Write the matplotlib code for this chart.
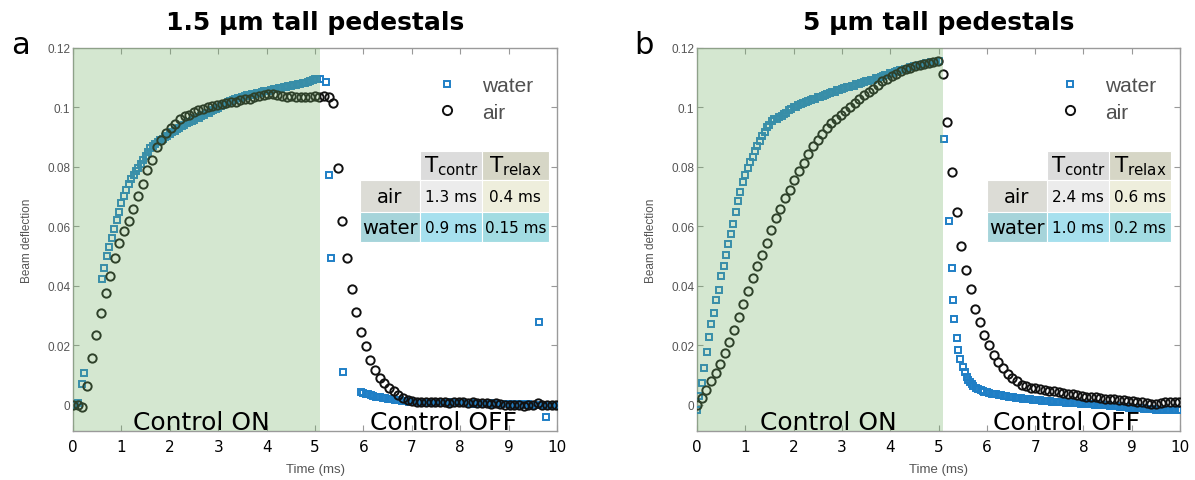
import numpy as np
import matplotlib
matplotlib.use("Agg")
import matplotlib.pyplot as plt
from matplotlib.patches import Rectangle

# ---------------- data ----------------
# air: one sample every ~0.096 ms
AIR_DT = 0.096
air_a = [
    0.0000, 0.0001, -0.0008, 0.0064, 0.0157, 0.0236, 0.0308, 0.0376, 0.0433, 0.0494,
    0.0544, 0.0585, 0.0619, 0.0658, 0.0703, 0.0744, 0.0789, 0.0825, 0.0866, 0.0891,
    0.0915, 0.0931, 0.0945, 0.0960, 0.0970, 0.0976, 0.0984, 0.0990, 0.0996, 0.1001,
    0.1004, 0.1008, 0.1010, 0.1015, 0.1017, 0.1019, 0.1024, 0.1028, 0.1030, 0.1035,
    0.1037, 0.1041, 0.1045, 0.1046, 0.1043, 0.1038, 0.1036, 0.1038, 0.1034, 0.1036,
    0.1034, 0.1036, 0.1037, 0.1035, 0.1037, 0.1036, 0.1015, 0.0798, 0.0619, 0.0495,
    0.0390, 0.0312, 0.0244, 0.0197, 0.0152, 0.0118, 0.0090, 0.0073, 0.0056, 0.0045,
    0.0034, 0.0024, 0.0017, 0.0012, 0.0010, 0.0009, 0.0011, 0.0008, 0.0009, 0.0010,
    0.0008, 0.0007, 0.0010, 0.0009, 0.0008, 0.0006, 0.0009, 0.0007, 0.0005, 0.0006,
    0.0004, 0.0005, 0.0002, 0.0001, 0.0000, -0.0002, -0.0001, -0.0004, -0.0002, 0.0001,
    0.0005, 0.0000, -0.0001, 0.0001, 0.0000,
]
air_b = [
    0.0000, 0.0022, 0.0050, 0.0080, 0.0107, 0.0138, 0.0175, 0.0211, 0.0252, 0.0297,
    0.0340, 0.0382, 0.0426, 0.0467, 0.0505, 0.0545, 0.0587, 0.0628, 0.0659, 0.0695,
    0.0724, 0.0755, 0.0785, 0.0814, 0.0844, 0.0870, 0.0892, 0.0910, 0.0931, 0.0948,
    0.0962, 0.0976, 0.0988, 0.1001, 0.1016, 0.1030, 0.1041, 0.1052, 0.1063, 0.1077,
    0.1088, 0.1097, 0.1106, 0.1114, 0.1121, 0.1128, 0.1134, 0.1139, 0.1144, 0.1147,
    0.1151, 0.1153, 0.1155, 0.1114, 0.0951, 0.0783, 0.0648, 0.0534, 0.0455, 0.0388,
    0.0323, 0.0278, 0.0236, 0.0200, 0.0166, 0.0144, 0.0123, 0.0104, 0.0090, 0.0079,
    0.0067, 0.0062, 0.0058, 0.0055, 0.0053, 0.0050, 0.0048, 0.0046, 0.0044, 0.0041,
    0.0038, 0.0036, 0.0033, 0.0031, 0.0028, 0.0027, 0.0025, 0.0023, 0.0021, 0.0020,
    0.0018, 0.0017, 0.0015, 0.0014, 0.0012, 0.0010, 0.0008, 0.0006, 0.0003, 0.0002,
    0.0006, 0.0008, 0.0009, 0.0009, 0.0009,
]

# water: one sample every 0.05 ms, with some samples missing / sparse
W_DT = 0.05
water_a_start_t = [0.00, 0.05, 0.10, 0.19, 0.23]
water_a_start = [0.0000, 0.0001, 0.0005, 0.0071, 0.0107]
water_a_on_t0 = 0.60  # dense part during control ON
water_a_on = [
    0.0422, 0.0460, 0.0500, 0.0530, 0.0562, 0.0590, 0.0622, 0.0649, 0.0678, 0.0703,
    0.0723, 0.0742, 0.0760, 0.0773, 0.0786, 0.0797, 0.0811, 0.0824, 0.0838, 0.0851,
    0.0863, 0.0872, 0.0877, 0.0885, 0.0889, 0.0894, 0.0901, 0.0905, 0.0911, 0.0918,
    0.0921, 0.0928, 0.0931, 0.0938, 0.0941, 0.0947, 0.0950, 0.0956, 0.0958, 0.0964,
    0.0966, 0.0972, 0.0975, 0.0980, 0.0982, 0.0988, 0.0991, 0.0996, 0.0999, 0.1004,
    0.1009, 0.1012, 0.1018, 0.1021, 0.1025, 0.1027, 0.1031, 0.1032, 0.1036, 0.1037,
    0.1041, 0.1042, 0.1045, 0.1046, 0.1049, 0.1050, 0.1053, 0.1054, 0.1057, 0.1057,
    0.1060, 0.1061, 0.1063, 0.1065, 0.1066, 0.1068, 0.1068, 0.1071, 0.1072, 0.1074,
    0.1075, 0.1078, 0.1078, 0.1081, 0.1083, 0.1086, 0.1089, 0.1092, 0.1095, 0.1096,
    0.1096,
]
water_a_drop_t = [5.22, 5.29, 5.34, 5.57]
water_a_drop = [0.1085, 0.0773, 0.0495, 0.0109]
water_a_off_t0 = 5.95
water_a_off = [
    0.0042, 0.0039, 0.0037, 0.0035, 0.0032, 0.0030, 0.0028, 0.0027, 0.0025, 0.0023,
    0.0022, 0.0021, 0.0020, 0.0018, 0.0017, 0.0016, 0.0015, 0.0014, 0.0013, 0.0012,
    0.0011, 0.0011, 0.0010, 0.0011, 0.0009, 0.0010, 0.0009, 0.0008, 0.0010, 0.0009,
    0.0008, 0.0009, 0.0007, 0.0008, 0.0009, 0.0007, 0.0008, 0.0006, 0.0007, 0.0008,
    0.0006, 0.0007, 0.0005, 0.0006, 0.0007, 0.0005, 0.0006, 0.0004, 0.0005, 0.0006,
    0.0004, 0.0005, 0.0003, 0.0004, 0.0005, 0.0003, 0.0004, 0.0002, 0.0003, 0.0004,
    0.0002, 0.0003, 0.0001, 0.0002, 0.0003, 0.0001, 0.0002, 0.0000, 0.0001, 0.0002,
    0.0000, 0.0001, 0.0000, 0.0001, 0.0000, 0.0001, 0.0000, 0.0000, 0.0001, 0.0000,
    0.0000, 0.0000,
]
water_a_outlier_t = [9.62, 9.77]
water_a_outlier = [0.0280, -0.0042]

water_b_on_t0 = 0.0
water_b_on = [
    -0.0019, 0.0031, 0.0074, 0.0123, 0.0179, 0.0228, 0.0271, 0.0310, 0.0351, 0.0387,
    0.0433, 0.0467, 0.0505, 0.0542, 0.0575, 0.0609, 0.0648, 0.0685, 0.0715, 0.0751,
    0.0772, 0.0796, 0.0816, 0.0835, 0.0852, 0.0870, 0.0886, 0.0904, 0.0917, 0.0933,
    0.0942, 0.0955, 0.0960, 0.0962, 0.0969, 0.0971, 0.0979, 0.0983, 0.0991, 0.0994,
    0.1001, 0.1003, 0.1009, 0.1010, 0.1015, 0.1017, 0.1022, 0.1024, 0.1028, 0.1030,
    0.1034, 0.1035, 0.1040, 0.1041, 0.1046, 0.1047, 0.1052, 0.1053, 0.1058, 0.1058,
    0.1063, 0.1064, 0.1068, 0.1068, 0.1073, 0.1073, 0.1078, 0.1079, 0.1083, 0.1084,
    0.1088, 0.1089, 0.1093, 0.1094, 0.1098, 0.1099, 0.1104, 0.1105, 0.1109, 0.1110,
    0.1115, 0.1116, 0.1120, 0.1121, 0.1125, 0.1126, 0.1130, 0.1131, 0.1135, 0.1136,
    0.1139, 0.1140, 0.1143, 0.1144, 0.1147, 0.1148, 0.1151, 0.1152, 0.1153, 0.1154,
    0.1155,
]
water_b_drop_t = [5.11, 5.21, 5.27, 5.29, 5.33, 5.38, 5.41, 5.45, 5.50, 5.55,
                  5.58, 5.62, 5.65, 5.69, 5.72, 5.77, 5.82, 5.87, 5.92]
water_b_drop = [0.0895, 0.0617, 0.0460, 0.0351, 0.0287, 0.0225, 0.0186, 0.0153,
                0.0127, 0.0110, 0.0093, 0.0085, 0.0076, 0.0069, 0.0063, 0.0058,
                0.0054, 0.0050, 0.0046]
water_b_off_t0 = 5.95
water_b_off = [
    0.0044, 0.0042, 0.0040, 0.0038, 0.0037, 0.0035, 0.0034, 0.0032, 0.0031, 0.0029,
    0.0028, 0.0027, 0.0026, 0.0024, 0.0023, 0.0022, 0.0021, 0.0020, 0.0019, 0.0018,
    0.0017, 0.0016, 0.0015, 0.0015, 0.0014, 0.0013, 0.0013, 0.0012, 0.0011, 0.0011,
    0.0010, 0.0009, 0.0009, 0.0008, 0.0007, 0.0007, 0.0006, 0.0006, 0.0005, 0.0005,
    0.0004, 0.0004, 0.0003, 0.0003, 0.0002, 0.0002, 0.0001, 0.0000, 0.0000, -0.0001,
    -0.0002, -0.0002, -0.0003, -0.0004, -0.0004, -0.0005, -0.0006, -0.0006, -0.0007, -0.0008,
    -0.0009, -0.0010, -0.0010, -0.0011, -0.0012, -0.0012, -0.0013, -0.0014, -0.0014, -0.0015,
    -0.0015, -0.0016, -0.0016, -0.0016, -0.0017, -0.0017, -0.0017, -0.0018, -0.0018, -0.0018,
    -0.0018, -0.0018,
]

titles = ["1.5 \u00b5m tall pedestals", "5 \u00b5m tall pedestals"]
panel_letters = ["a", "b"]
row_names = ["air", "water"]
t_contr = [["1.3 ms", "0.9 ms"], ["2.4 ms", "1.0 ms"]]
t_relax = [["0.4 ms", "0.15 ms"], ["0.6 ms", "0.2 ms"]]
control_switch = 5.1
yticks = [0, 0.02, 0.04, 0.06, 0.08, 0.1, 0.12]
ytick_labels = ["0", "0.02", "0.04", "0.06", "0.08", "0.1", "0.12"]

WATER_C = "#1f7fc6"
AIR_C = "#111111"
GREY_TXT = "#555555"


def grid_times(t0, dt, vals):
    return t0 + dt * np.arange(len(vals))


air_sets = [air_a, air_b]
water_sets = [
    (np.concatenate([water_a_start_t, grid_times(water_a_on_t0, W_DT, water_a_on),
                     water_a_drop_t, grid_times(water_a_off_t0, W_DT, water_a_off),
                     water_a_outlier_t]),
     np.concatenate([water_a_start, water_a_on, water_a_drop, water_a_off, water_a_outlier])),
    (np.concatenate([grid_times(water_b_on_t0, W_DT, water_b_on), water_b_drop_t,
                     grid_times(water_b_off_t0, W_DT, water_b_off)]),
     np.concatenate([water_b_on, water_b_drop, water_b_off])),
]

fig = plt.figure(figsize=(11.95, 4.81), dpi=100)
ax_rects = [[73 / 1195, 49 / 481, 484 / 1195, 383 / 481],
            [697 / 1195, 49 / 481, 483 / 1195, 383 / 481]]
# table geometry (axes fraction): column edges and row edges
col_edges = [[0.593, 0.717, 0.845, 0.983], [0.600, 0.725, 0.853, 0.981]]
row_edges = [0.731, 0.655, 0.572, 0.493]
head_cols = ["#dcdcdc", "#d6d6c6"]
cell_cols = [["#dcdcd6", "#ececec", "#eeeedc"],
             ["#a6d4da", "#a6e0ee", "#a2dce2"]]

for i in range(2):
    ax = fig.add_axes(ax_rects[i])
    wt, wv = water_sets[i]
    at = grid_times(0.0, AIR_DT, air_sets[i])

    ax.plot(wt, wv, 's', ls='none', ms=4.4, mfc='none', mec=WATER_C, mew=1.4,
            label='water', zorder=3)
    ax.plot(at, air_sets[i], 'o', ls='none', ms=6.0, mfc='none', mec=AIR_C, mew=1.4,
            label='air', zorder=4)
    # green shading of the "control on" period, laid over the markers
    ax.axvspan(0, control_switch, color='#73b264', alpha=0.3, lw=0, zorder=5)

    ax.set_xlim(0, 10)
    ax.set_ylim(-0.0088, 0.12)
    ax.set_xticks(range(11))
    ax.set_yticks(yticks)
    ax.set_yticklabels(ytick_labels, fontfamily='Liberation Sans', fontsize=8.5,
                       color=GREY_TXT)
    for lab in ax.get_xticklabels():
        lab.set_fontsize(11)
        lab.set_color('black')
    ax.tick_params(direction='in', length=4, color='#999999', right=True, top=True)
    ax.tick_params(axis='x', pad=6)
    ax.tick_params(axis='y', pad=2)
    for sp in ax.spines.values():
        sp.set_color('#9a9a9a')
        sp.set_linewidth(1.0)
    ax.set_ylabel('Beam deflection', fontfamily='Liberation Sans', fontsize=8.5,
                  color=GREY_TXT, labelpad=10)
    ax.set_xlabel('Time (ms)', fontfamily='Liberation Sans', fontsize=9.5,
                  color=GREY_TXT, labelpad=6)
    ax.set_title(titles[i], fontsize=18, fontweight='bold', pad=14)
    ax.text(2.65 if i == 0 else 2.72, 0.004, 'Control ON', transform=ax.get_xaxis_transform(),
            ha='center', va='baseline', fontsize=18, zorder=6)
    ax.text(7.66, 0.004, 'Control OFF', transform=ax.get_xaxis_transform(),
            ha='center', va='baseline', fontsize=18, zorder=6)

    leg = ax.legend(loc='upper right', bbox_to_anchor=(0.99, 0.975), frameon=False,
                    handletextpad=0.7, labelspacing=0.35, markerscale=1.1,
                    prop={'family': 'Liberation Sans', 'size': 15})
    for txt in leg.get_texts():
        txt.set_color('#505050')

    # small summary table
    ce = col_edges[i]
    # header row
    for j, lab in enumerate(["contr", "relax"]):
        x0, x1 = ce[j + 1], ce[j + 2]
        ax.add_patch(Rectangle((x0, row_edges[1]), x1 - x0, row_edges[0] - row_edges[1],
                               transform=ax.transAxes, fc=head_cols[j], ec='white',
                               lw=0.8, zorder=7))
        ax.text((x0 + x1) / 2, (row_edges[0] + row_edges[1]) / 2,
                r'T$_{\mathregular{' + lab + '}}$', transform=ax.transAxes,
                ha='center', va='center', fontsize=15.5, zorder=8)
    for r in range(2):
        y0, y1 = row_edges[r + 2], row_edges[r + 1]
        texts = [row_names[r], t_contr[i][r], t_relax[i][r]]
        for j in range(3):
            x0, x1 = ce[j], ce[j + 1]
            ax.add_patch(Rectangle((x0, y0), x1 - x0, y1 - y0, transform=ax.transAxes,
                                   fc=cell_cols[r][j], ec='white', lw=0.8, zorder=7))
            ax.text((x0 + x1) / 2, (y0 + y1) / 2, texts[j], transform=ax.transAxes,
                    ha='center', va='center', fontsize=14 if j == 0 else 11, zorder=8)

    fig.text(ax_rects[i][0] - 0.044, 0.905, panel_letters[i], fontsize=22,
             ha='center', va='center')

fig.savefig('out.png', dpi=100)
